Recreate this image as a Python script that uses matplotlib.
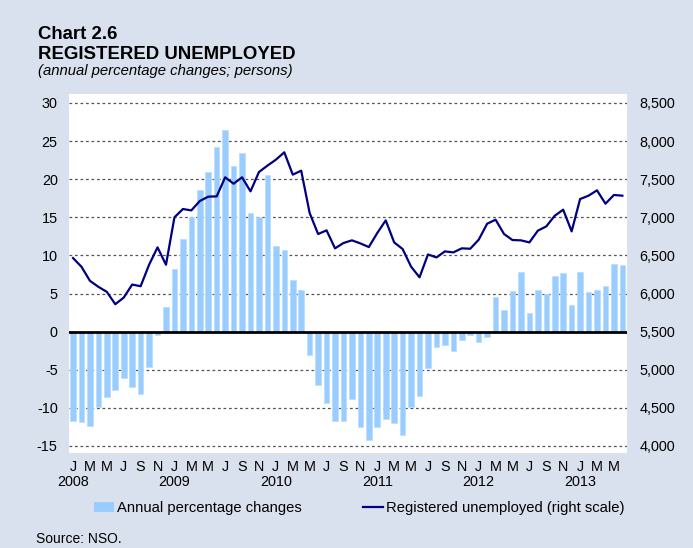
import matplotlib
matplotlib.use("Agg")
import matplotlib.pyplot as plt
import numpy as np
from matplotlib.patches import Patch
from matplotlib.lines import Line2D
import matplotlib.transforms as mtransforms

plt.rcParams['font.family'] = ['Liberation Sans', 'DejaVu Sans']

years = ['2008', '2009', '2010', '2011', '2012', '2013']
month_letters = ['J', 'F', 'M', 'A', 'M', 'J', 'J', 'A', 'S', 'O', 'N', 'D']

pct_change = [
    -11.7, -11.9, -12.4, -9.9, -8.6, -7.6, -6.1, -7.3, -8.2, -4.7, -0.4, 3.3,
    8.2, 12.1, 15.0, 18.6, 20.9, 24.2, 26.4, 21.7, 23.5, 15.6, 15.1, 20.6,
    11.2, 10.7, 6.75, 5.5, -3.1, -7.0, -9.4, -11.7, -11.7, -8.9, -12.5, -14.2,
    -12.5, -11.5, -12.0, -13.6, -9.9, -8.5, -4.8, -2.0, -1.7, -2.5, -1.1, -0.4,
    -1.4, -0.7, 4.6, 2.9, 5.3, 7.85, 2.5, 5.5, 4.9, 7.3, 7.7, 3.5,
    7.85, 5.2, 5.5, 6.0, 8.9, 8.7,
]

registered = [
    6466, 6351, 6167, 6088, 6022, 5860, 5947, 6118, 6096, 6378, 6606, 6378,
    7000, 7109, 7091, 7214, 7271, 7275, 7525, 7441, 7525, 7341, 7594, 7678,
    7756, 7853, 7560, 7612, 7056, 6781, 6829, 6593, 6663, 6698, 6658, 6610,
    6794, 6960, 6671, 6584, 6353, 6213, 6513, 6474, 6553, 6540, 6593, 6588,
    6706, 6916, 6969, 6781, 6702, 6698, 6671, 6825, 6881, 7021, 7100, 6816,
    7240, 7284, 7354, 7179, 7293, 7284,
]

left_ticks = [-15, -10, -5, 0, 5, 10, 15, 20, 25, 30]
right_ticks = [4000, 4500, 5000, 5500, 6000, 6500, 7000, 7500, 8000, 8500]

BG = '#DAE1EE'
BAR = '#99CCFF'
LINE = '#000080'
FS = 10.4

W, H = 693, 548
fig = plt.figure(figsize=(W / 100, H / 100), dpi=100, facecolor=BG)

ax_l, ax_r, ax_t, ax_b = 68.8, 627, 94, 453
ax = fig.add_axes([ax_l / W, 1 - ax_b / H, (ax_r - ax_l) / W, (ax_b - ax_t) / H])
ax.set_facecolor('white')

n = len(pct_change)
x = np.arange(n)
ax.bar(x, pct_change, width=0.66, color=BAR, edgecolor='#B8DCFF', linewidth=0.5, zorder=2)

ylo, yhi = -15.92, 31.18
ax.set_ylim(ylo, yhi)
ax.set_xlim(-0.5, n - 0.45)
ax.set_yticks(left_ticks)
ax.set_yticklabels([str(t) for t in left_ticks])
for t in left_ticks:
    if t != 0:
        ax.axhline(t, color='#555555', lw=0.9, ls=(0, (2.2, 2.2)), zorder=1)
ax.axhline(0, color='black', lw=2.0, zorder=4)

for s in ax.spines.values():
    s.set_visible(False)
ax.tick_params(axis='y', length=0, pad=8, labelsize=FS, colors='#000000')

ticks = list(range(0, n, 2))
labels = [month_letters[i % 12] for i in ticks]
ax.set_xticks(ticks)
ax.set_xticklabels(labels)
ax.tick_params(axis='x', length=0, pad=5, labelsize=FS)

trans = mtransforms.blended_transform_factory(ax.transData, fig.transFigure)
for k, yr in enumerate(years):
    ax.text(12 * k, 1 - 482 / H, yr, transform=trans, ha='center', va='center', fontsize=FS)

ax2 = ax.twinx()
ax2.set_ylim(5500 + 100 * ylo, 5500 + 100 * yhi)
ax2.plot(x, registered, color=LINE, lw=1.6, zorder=5)
ax2.set_yticks(right_ticks)
ax2.set_yticklabels([f'{t:,}' for t in right_ticks])
ax2.tick_params(axis='y', length=0, pad=9, labelsize=FS)
for s in ax2.spines.values():
    s.set_visible(False)

fig.text(38 / W, 1 - 39 / H, 'Chart 2.6', fontsize=13.4, fontweight='bold', ha='left', va='baseline')
fig.text(38 / W, 1 - 59 / H, 'REGISTERED UNEMPLOYED', fontsize=13.4, fontweight='bold', ha='left', va='baseline')
fig.text(38 / W, 1 - 75 / H, '(annual percentage changes; persons)', fontsize=10.7, style='italic',
         ha='left', va='baseline')

handles = [Patch(facecolor=BAR, edgecolor='none'), Line2D([0], [0], color=LINE, lw=1.6)]
fig.legend(handles, ['Annual percentage changes', 'Registered unemployed (right scale)'],
           loc='center left', bbox_to_anchor=(94 / W, 1 - 508 / H), ncol=2, frameon=False,
           fontsize=10.6, handlelength=1.36, handleheight=0.7, handletextpad=0.2,
           columnspacing=4.15, borderpad=0, borderaxespad=0)

fig.text(36 / W, 1 - 546 / H, 'Source: NSO.', fontsize=10, ha='left', va='bottom')

fig.savefig('out.png', dpi=100, facecolor=BG)
